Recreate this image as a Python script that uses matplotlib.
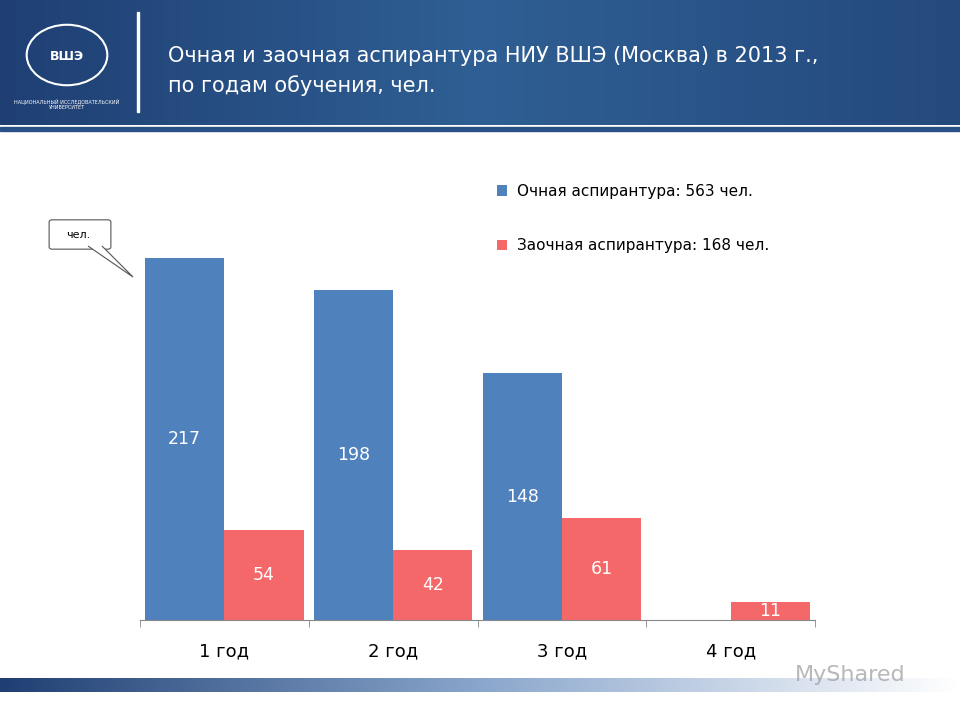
import matplotlib
matplotlib.use("Agg")
import matplotlib.pyplot as plt
import numpy as np
from matplotlib.patches import Rectangle, FancyBboxPatch, Polygon, Circle
from matplotlib.colors import LinearSegmentedColormap

categories = ["1 год", "2 год", "3 год", "4 год"]
full_time = [217, 198, 148, None]
part_time = [54, 42, 61, 11]
legend_labels = ["Очная аспирантура: 563 чел.", "Заочная аспирантура: 168 чел."]
title = "Очная и заочная аспирантура НИУ ВШЭ (Москва) в 2013 г.,\nпо годам обучения, чел."

BLUE = "#4f81bd"
RED = "#f5686a"
W, H = 960, 720
fig = plt.figure(figsize=(9.6, 7.2), dpi=100)
fig.patch.set_facecolor("white")

def px(x, y):
    return (x / W, 1 - y / H)

bg = fig.add_axes([0, 1 - 125 / H, 1, 125 / H])
bg.axis("off")
grad = np.linspace(0, 1, 256)[None, :]
cm = LinearSegmentedColormap.from_list("h", ["#1f3f73", "#2f5f94", "#24497d"])
bg.imshow(grad, aspect="auto", cmap=cm, extent=[0, 1, 0, 1])
bg.set_xlim(0, 1); bg.set_ylim(0, 1)
fig.add_artist(Rectangle(px(0, 131), 1, 4 / H, transform=fig.transFigure, color="#2a5088"))
fig.add_artist(Rectangle(px(137, 112), 2 / W, 100 / H, transform=fig.transFigure, color="white"))
fig.add_artist(Circle(px(67, 55), 0.042, transform=fig.transFigure, fill=False, ec="white", lw=1.5))
fig.text(*px(67, 57), "ВШЭ", color="white", fontsize=9, ha="center", va="center", fontweight="bold")
fig.text(*px(67, 104), "НАЦИОНАЛЬНЫЙ ИССЛЕДОВАТЕЛЬСКИЙ\nУНИВЕРСИТЕТ", color="white", fontsize=3.5, ha="center", va="center")
fig.text(*px(168, 71), title, color="white", fontsize=15, ha="left", va="center", linespacing=1.55)

st = fig.add_axes([0, 1 - 692 / H, 1, 14 / H])
st.axis("off")
cm2 = LinearSegmentedColormap.from_list("s", ["#1f3f73", "#8aa6cc", "#ffffff"])
st.imshow(grad, aspect="auto", cmap=cm2, extent=[0, 1, 0, 1])
fig.text(*px(850, 675), "MyShared", color="#9a9a9a", fontsize=16, ha="center", va="center", alpha=0.7)

top_val = 230
ax = fig.add_axes([140 / W, 1 - 620 / H, 675 / W, (top_val * 362 / 217) / H])
x = np.arange(len(categories))
bw = 0.47
fv = [v if v is not None else 0 for v in full_time]
b1 = ax.bar(x - bw / 2, fv, bw, color=BLUE, label=legend_labels[0])
b2 = ax.bar(x + bw / 2, part_time, bw, color=RED, label=legend_labels[1])
for i, v in enumerate(full_time):
    if v is not None:
        ax.text(x[i] - bw / 2, v / 2, str(v), ha="center", va="center", color="white", fontsize=12.5)
for i, v in enumerate(part_time):
    ax.text(x[i] + bw / 2, v / 2, str(v), ha="center", va="center", color="white", fontsize=12.5)
ax.set_xlim(-0.5, 3.5)
ax.set_ylim(0, top_val)
for s in ["top", "right", "left"]:
    ax.spines[s].set_visible(False)
ax.spines["bottom"].set_color("#888888")
ax.set_yticks([])
ax.set_xticks(x)
ax.set_xticklabels(categories, fontsize=13)
ax.set_xticks([-0.5, 0.5, 1.5, 2.5, 3.5], minor=True)
ax.tick_params(axis="x", which="major", length=0, pad=16)
ax.tick_params(axis="x", which="minor", length=5, color="#888888")
ax.patch.set_alpha(0)

fig.legend(handles=[b1, b2], loc="upper left", bbox_to_anchor=px(483, 170),
           frameon=False, fontsize=11, handlelength=0.7, handleheight=0.7,
           labelspacing=2.6, handletextpad=0.6)

fig.add_artist(FancyBboxPatch(px(52, 247), 56 / W, 25 / H, boxstyle="round,pad=0.003",
                              transform=fig.transFigure, fc="white", ec="#555555", lw=0.8))
fig.add_artist(Polygon([px(88, 246), px(133, 277), px(102, 246)], closed=False,
                       transform=fig.transFigure, fc="white", ec="#555555", lw=0.8))
fig.text(*px(78, 235), "чел.", fontsize=8, ha="center", va="center")

fig.savefig("out.png", dpi=100)
